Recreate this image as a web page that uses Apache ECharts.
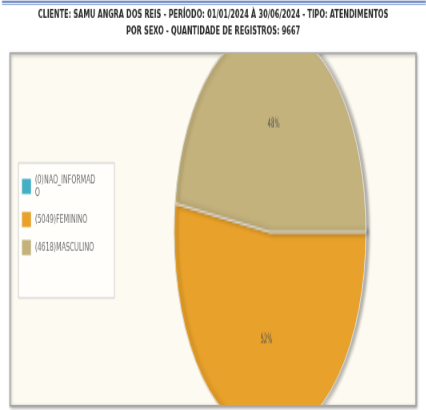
<!DOCTYPE html>
<html>
<head>
<meta charset="utf-8">
<script src="https://cdn.jsdelivr.net/npm/echarts@6/dist/echarts.min.js"></script>
<style>
html,body{margin:0;padding:0;background:#fff;}
#wrap{position:relative;width:426px;height:410px;overflow:hidden;background:#fff;}
#base{position:absolute;left:0;top:0;width:532.5px;height:322px;transform:scale(0.8,1.2733);transform-origin:0 0;}
#clip{position:absolute;left:11px;top:54px;width:404px;height:351px;overflow:hidden;}
#pie{position:absolute;left:0;top:73px;width:404px;height:210px;transform:scaleY(2.135);transform-origin:50% 50%;}
</style>
</head>
<body>
<div id="wrap">
  <div id="base"></div>
  <div id="clip"><div id="pie"></div></div>
</div>
<script>
var titleLines = ['CLIENTE: SAMU ANGRA DOS REIS - PERÍODO: 01/01/2024 À 30/06/2024 - TIPO: ATENDIMENTOS',
                  'POR SEXO - QUANTIDADE DE REGISTROS: 9667'];
var categories = ['NAO_INFORMADO', 'FEMININO', 'MASCULINO'];
var values = [0, 5049, 4618];
var colors = ['#45afc6', '#e8a12a', '#c4b27d'];

var FONT = '"Liberation Sans Narrow", "DejaVu Sans Condensed", "Liberation Sans", sans-serif';

function legendName(i) { return '(' + values[i] + ')' + categories[i]; }
var seriesData = categories.map(function (c, i) {
  return { name: legendName(i), value: values[i], itemStyle: { color: colors[i] } };
});

var base = echarts.init(document.getElementById('base'), null, { renderer: 'canvas' });
base.setOption({
  animation: false,
  title: {
    text: titleLines.join('\n'),
    left: 'center', top: 5.5, padding: 0,
    textStyle: { fontFamily: FONT, fontWeight: 'bold', fontSize: 9.2, lineHeight: 12.5, color: '#262626' }
  },
  graphic: [
    { type: 'rect', shape: { x: 2.5, y: 0.8, width: 530, height: 1.1 }, style: { fill: '#3f63ae' }, z: 1 },
    { type: 'rect', shape: { x: 2.5, y: 2.7, width: 530, height: 1.2 }, style: { fill: '#9fb4dc' }, z: 1 },
    { type: 'rect', shape: { x: 12.5, y: 41.7, width: 507.5, height: 277 },
      style: { fill: '#fdfaf1', stroke: '#a2a2a2', lineWidth: 1.5, shadowBlur: 3, shadowColor: 'rgba(0,0,0,0.35)', shadowOffsetX: 1, shadowOffsetY: 1 }, z: 1 },
    { type: 'rect', shape: { x: 23.1, y: 128, width: 120, height: 106 },
      style: { fill: '#fffefb', stroke: '#cfcfcf', lineWidth: 1 }, z: 2 }
  ],
  legend: {
    orient: 'vertical', left: 27.5, top: 136.4, padding: 0,
    itemWidth: 11.25, itemHeight: 12, itemGap: 10,
    icon: 'rect', selectedMode: false,
    textStyle: { fontFamily: FONT, fontSize: 8.8, color: '#6e6e6e', lineHeight: 10, width: 81, overflow: 'breakAll' },
    data: seriesData.map(function (d) { return d.name; }),
    z: 5
  },
  series: [{
    type: 'pie', radius: [0, 0], center: [-50, -50], silent: true,
    label: { show: false }, labelLine: { show: false },
    data: seriesData
  }]
});

var pie = echarts.init(document.getElementById('pie'), null, { renderer: 'canvas' });
pie.setOption({
  animation: false,
  series: [{
    type: 'pie',
    center: [259, 105],
    radius: 96,
    startAngle: 0,
    clockwise: true,
    silent: true,
    label: {
      show: true, position: 'inside',
      fontFamily: FONT, fontSize: 6, color: '#555',
      formatter: function (p) { return p.value ? Math.round(p.percent) + '%' : ''; }
    },
    labelLine: { show: false },
    itemStyle: { borderColor: '#dcdad2', borderWidth: 1, shadowBlur: 3, shadowColor: 'rgba(0,0,0,0.3)', shadowOffsetX: 3, shadowOffsetY: 0 },
    data: seriesData
  }]
});
</script>
</body>
</html>
